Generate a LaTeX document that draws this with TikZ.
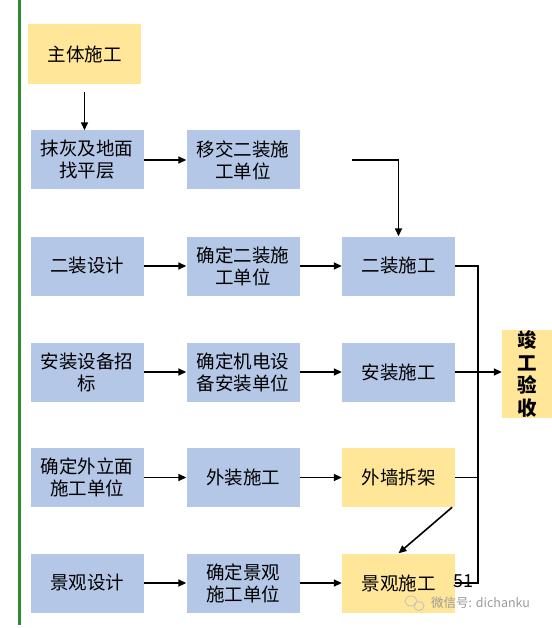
\documentclass[tikz,border=0pt]{standalone}
\usepackage{fontspec}
\setmainfont{Noto Sans CJK SC}
\usetikzlibrary{arrows.meta}
\definecolor{boxblue}{HTML}{B4C7E7}
\definecolor{boxyellow}{HTML}{FFE699}
\definecolor{linegreen}{HTML}{2E8B2E}
\definecolor{markgray}{HTML}{9A9A9A}

\begin{document}
\begin{tikzpicture}[x=1pt, y=-1pt,
    box/.style={fill=boxblue, minimum width=113pt, minimum height=59pt, inner sep=0pt,
        align=center, font=\fontsize{18.5}{22}\selectfont},
    ybox/.style={box, fill=boxyellow},
    conn/.style={line width=1.6pt},
    arr/.style={conn, -{Triangle[length=8pt,width=7pt]}}]
    \useasboundingbox (0,0) rectangle (551,628);
    \def\colA{87}
    \def\colB{243}
    \def\colC{398.5}

    % left rule
    \draw[linegreen, line width=3pt] (19.5,0) -- (19.5,625);

    % boxes
    \node[ybox, minimum height=60pt] (B01) at (84.5,54) {主体施工};
    \node[box] (B11) at (\colA,160) {抹灰及地面\\找平层};
    \node[box] (B12) at (\colB,160) {移交二装施\\工单位};
    \node[box] (B21) at (\colA,266) {二装设计};
    \node[box] (B22) at (\colB,266) {确定二装施\\工单位};
    \node[box] (B23) at (\colC,266) {二装施工};
    \node[box] (B31) at (\colA,372) {安装设备招\\标};
    \node[box] (B32) at (\colB,372) {确定机电设\\备安装单位};
    \node[box] (B33) at (\colC,372) {安装施工};
    \node[box] (B41) at (\colA,477.5) {确定外立面\\施工单位};
    \node[box] (B42) at (\colB,477.5) {外装施工};
    \node[ybox] (B43) at (\colC,477.5) {外墙拆架};
    \node[box] (B51) at (\colA,583) {景观设计};
    \node[box] (B52) at (\colB,583) {确定景观\\施工单位};
    \node[ybox] (B53) at (\colC,583) {景观施工};
    \node[ybox, minimum width=50pt, minimum height=88pt,
        font=\fontsize{19.5}{22.5}\selectfont\bfseries] (B6) at (527,374) {竣\\工\\验\\收};

    \node[font=\fontsize{18}{20}\selectfont, inner sep=0pt] (stray) at (463,581) {51};

    % connectors
    \coordinate (bus) at (478,0);
    \coordinate (c1) at (352,160);
    \draw[arr] ([yshift=-8pt]B01.south) -- (B01.south |- B11.north);
    \draw[arr] (B11) -- (B12);
    \draw[arr] (c1) -| (B23.north);
    \foreach \r in {2,...,5} {
        \draw[arr] (B\r1) -- (B\r2);
        \draw[arr] (B\r2) -- (B\r3);
    }
    \draw[conn] (B23.east) -- (B23.east -| bus) -- (B53.east -| bus) -- (B53.east);
    \draw[conn] (B43.east) -- (B43.east -| bus);
    \draw[arr] (B33.east) -- (B33.east -| B6.west);
    \draw[arr] ([xshift=-3pt]B43.south east) -- (B53.north);

    % watermark
    \draw[markgray!60, line width=0.8pt] (411,601) ellipse (6pt and 5pt);
    \draw[markgray!60, line width=0.8pt] (419,606) ellipse (5pt and 4.5pt);
    \node[markgray, font=\fontsize{12.5}{14}\selectfont, anchor=west, inner sep=0pt] (mark) at (431,603) {微信号: dichanku};
\end{tikzpicture}
\end{document}
